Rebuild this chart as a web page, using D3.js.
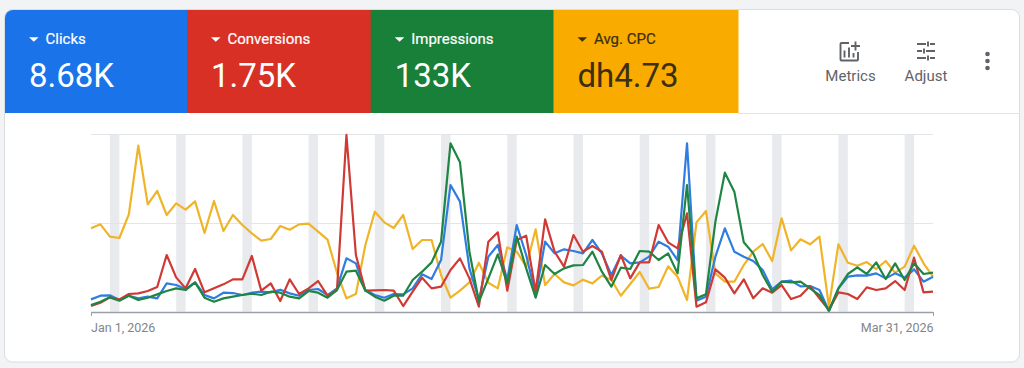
<!DOCTYPE html>
<html><head><meta charset="utf-8">
<script src="https://cdn.jsdelivr.net/npm/d3@7"></script>
<style>html,body{margin:0;padding:0;background:#f1f3f4;overflow:hidden}svg{display:block;font-family:Roboto,sans-serif}</style>
</head><body><div id="chart"></div>
<script>
const tileLabels = ["Clicks","Conversions","Impressions","Avg. CPC"];
const tileValues = ["8.68K","1.75K","133K","dh4.73"];
const tileColors = ["#1a73e8","#d93025","#188038","#f9ab00"];
const tileInk = ["#fff","#fff","#fff","#3c2f12"];
const startDate = new Date(2026,0,1);
const endDate = new Date(2026,2,31);
const tickLabels = ["Jan 1, 2026","Mar 31, 2026"];
const yMax = 532;
const avgCpc = [250,262,225,221,292,498,322,362,290,325,306,331,236,332,242,290,260,235,213,218,257,246,262,264,240,216,117,40,53,200,300,268,251,290,188,215,215,110,42,63,88,147,87,70,193,180,135,247,80,113,88,79,96,85,108,96,48,83,119,69,74,136,105,35,268,302,115,90,90,140,180,203,152,280,184,217,202,225,15,202,147,138,149,128,152,117,135,198,145,105];
const clicks = [37,48,49,35,48,40,45,40,85,80,68,88,50,40,57,56,50,57,60,58,66,55,48,65,68,50,70,160,145,65,50,42,53,52,70,112,98,155,380,330,130,35,165,200,95,260,170,50,210,175,187,182,175,215,175,110,168,145,148,165,210,195,155,505,33,45,165,250,180,165,152,125,67,90,93,76,77,65,2,70,105,109,108,115,100,115,102,127,90,105];
const conversions = [17,27,43,37,53,55,62,74,170,103,70,128,58,70,82,97,97,167,63,85,32,97,53,70,92,48,65,530,170,63,64,65,63,17,60,102,70,75,125,160,100,15,210,238,63,215,228,60,277,180,135,230,180,197,180,95,170,100,148,148,260,208,190,295,15,28,127,102,55,97,40,70,57,80,38,48,77,40,5,58,53,38,73,65,70,92,65,162,58,60];
const impressions = [20,30,43,33,48,35,42,52,62,70,65,88,42,30,40,45,50,54,50,60,57,45,40,62,57,42,65,120,123,63,45,33,48,48,95,120,148,210,505,448,180,30,100,172,85,225,130,42,140,113,130,139,140,180,120,75,132,128,182,180,155,175,115,380,40,52,270,417,360,208,175,110,60,90,88,90,70,50,2,70,113,133,113,148,98,145,95,145,113,117];
const series = [
  {name:"Avg. CPC",color:"#f0b429",values:avgCpc},
  {name:"Clicks",color:"#2f7de0",values:clicks},
  {name:"Conversions",color:"#cf3a35",values:conversions},
  {name:"Impressions",color:"#1e8543",values:impressions}
];

const W=1024,H=368;
const svg=d3.select("#chart").append("svg").attr("width",W).attr("height",H);
svg.append("rect").attr("x",4.5).attr("y",9.5).attr("width",1015).attr("height",352.5).attr("rx",8)
  .attr("fill","#fff").attr("stroke","#dadce0");
svg.append("line").attr("x1",738).attr("x2",1020).attr("y1",113.5).attr("y2",113.5).attr("stroke","#e0e2e5");

// tiles
const tileEdge=d3.scaleLinear().domain([0,1,2,3,4]).range([5,187,370.7,553.5,738]);
const defs=svg.append("defs");
defs.append("clipPath").attr("id","card").append("rect").attr("x",5).attr("y",10).attr("width",1014).attr("height",351).attr("rx",8);
const tiles=svg.append("g").attr("clip-path","url(#card)").selectAll("g").data(tileLabels).join("g")
  .attr("transform",(d,i)=>`translate(${tileEdge(i)},10)`);
tiles.append("rect").attr("width",(d,i)=>tileEdge(i+1)-tileEdge(i)+0.5).attr("height",103).attr("fill",(d,i)=>tileColors[i]);
tiles.append("path").attr("d","M24 27.2h9.6l-4.8 4.6z").attr("fill",(d,i)=>tileInk[i]);
tiles.append("text").attr("x",40.5).attr("y",33.5).attr("font-size",15).attr("font-weight",400).attr("stroke",(d,i)=>tileInk[i]).attr("stroke-width",0.2).attr("fill",(d,i)=>tileInk[i]).text(d=>d);
tiles.append("text").attr("x",24).attr("y",77).attr("font-size",33).attr("fill",(d,i)=>tileInk[i]).text((d,i)=>tileValues[i]);

// toolbar
const ink="#5f6368";
const tb=svg.append("g");
tb.append("path").attr("d","M849 43h-7.5a1 1 0 0 0-1 1v15.500a1 1 0 0 0 1 1h15.500a1 1 0 0 0 1-1V52").attr("fill","none").attr("stroke",ink).attr("stroke-width",1.9);
tb.append("path").attr("d","M844.500 50.500v7M849 47.500v10M853.500 53v4.500M855.500 41.500v9M851 46h9").attr("fill","none").attr("stroke",ink).attr("stroke-width",1.9);
tb.append("path").attr("d","M917 44h9M930 44h5M917 51h5M926 51h9M917 58h9M930 58h5M928 41.500v5M924 48.500v5M928 55.500v5").attr("fill","none").attr("stroke",ink).attr("stroke-width",1.9);
tb.selectAll("circle").data([54,61,68]).join("circle").attr("cx",987.500).attr("cy",d=>d).attr("r",2.300).attr("fill",ink);
tb.append("text").attr("x",850.500).attr("y",80.500).attr("text-anchor","middle").attr("font-size",15).attr("fill",ink).text("Metrics");
tb.append("text").attr("x",926).attr("y",80.500).attr("text-anchor","middle").attr("font-size",15).attr("fill",ink).text("Adjust");

// chart
const x=d3.scaleTime().domain([startDate,endDate]).range([91,933]);
const y=d3.scaleLinear().domain([0,yMax]).range([311.7,134.3]);
const days=d3.timeDay.range(startDate,d3.timeDay.offset(endDate,1));
const g=svg.append("g");
const sats=days.filter(d=>d.getDay()===6);
g.selectAll(".wk").data(sats).join("rect").attr("x",d=>x(d)).attr("y",y(yMax))
  .attr("width",d=>x(d3.timeDay.offset(d,1))-x(d)).attr("height",y(0)-y(yMax)).attr("fill","#e8eaed");
g.selectAll(".grid").data([yMax/2,yMax]).join("line").attr("x1",91).attr("x2",933)
  .attr("y1",d=>Math.round(y(d))+.5).attr("y2",d=>Math.round(y(d))+.5).attr("stroke","#e3e5e8");
const line=d3.line().x((d,i)=>x(days[i])).y(d=>y(d)).curve(d3.curveLinear);
g.selectAll(".s").data(series).join("path").attr("fill","none").attr("stroke",d=>d.color)
  .attr("stroke-width",2.2).attr("stroke-linejoin","round").attr("d",d=>line(d.values));
const axis=d3.axisBottom(x).tickValues([startDate,endDate]).tickFormat((d,i)=>tickLabels[i]).tickSize(4).tickPadding(8);
const ax=g.append("g").attr("transform","translate(0,312)").call(axis);
ax.select(".domain").attr("stroke","#9aa0a6").attr("d","M91,0.5H933").attr("stroke-width",1.500);
ax.selectAll(".tick line").attr("stroke","#9aa0a6");
ax.selectAll("text").attr("font-family","Roboto,sans-serif").attr("font-size",12.5).attr("fill","#80868b")
  .attr("text-anchor",(d,i)=>i?"end":"start").attr("x",(d,i)=>i?0:-0.5).attr("y",11);
</script></body></html>
